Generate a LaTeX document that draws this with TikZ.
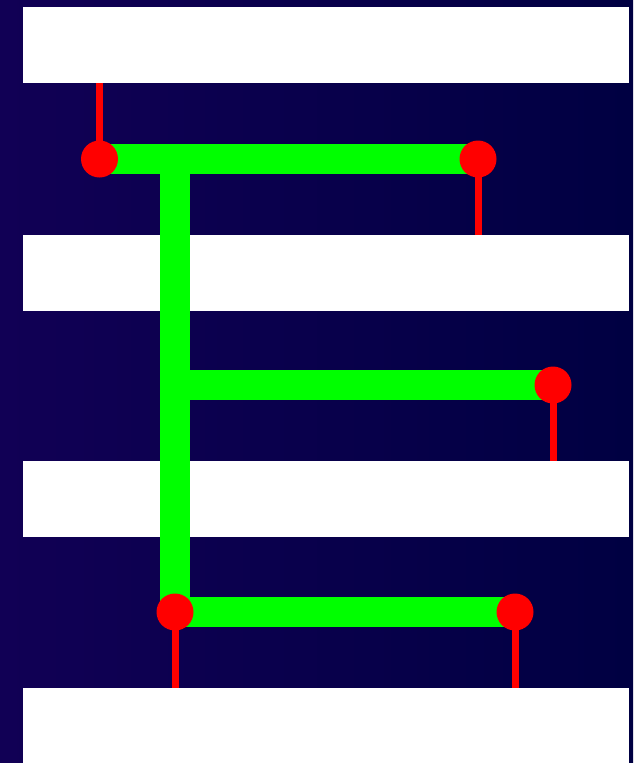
\documentclass[tikz,border=0pt]{standalone}
\usepackage{tikz}
\usetikzlibrary{positioning,calc}
\definecolor{bgleft}{HTML}{110055}
\definecolor{bgright}{HTML}{000042}
\definecolor{wire}{HTML}{00FF00}
\begin{document}
\begin{tikzpicture}[x=1pt,y=-1pt]
  \tikzstyle{rail}=[fill=white,minimum width=606pt,minimum height=76pt,inner sep=0pt,anchor=north west]
  \tikzstyle{pin}=[circle,fill=red,minimum size=37pt,inner sep=0pt]
  \tikzstyle{trunk}=[draw=wire,line width=30pt]
  \tikzstyle{lead}=[draw=red,line width=7pt]
  % backdrop
  \shade[left color=bgleft,right color=bgright] (0,0) rectangle (633,763);
  \useasboundingbox (0,0) rectangle (633,763);
  % rails
  \node[rail] (r1) at (23,7) {};
  \node[rail] (r2) at (23,235) {};
  \node[rail] (r3) at (23,461) {};
  \node[rail] (r4) at (23,688) {};
  % pin centres and junctions
  \coordinate (c1) at (99.5,159);
  \coordinate (c2) at (478,159);
  \coordinate (c3) at (553,385);
  \coordinate (c4) at (175,612);
  \coordinate (c5) at (515,612);
  \coordinate (j1) at (175,159);
  \coordinate (j2) at (175,385);
  % green wiring
  \draw[trunk] (c1) -- (c2);
  \draw[trunk] (j1) -- (c4);
  \draw[trunk] (j2) -- (c3);
  \draw[trunk] (c4) -- (c5);
  % red leads
  \draw[lead] (r1.south -| c1) -- (c1);
  \draw[lead] (c2) -- (r2.north -| c2);
  \draw[lead] (c3) -- (r3.north -| c3);
  \draw[lead] (c4) -- (r4.north -| c4);
  \draw[lead] (c5) -- (r4.north -| c5);
  % pins
  \node[pin] (p1) at (c1) {};
  \node[pin] (p2) at (c2) {};
  \node[pin] (p3) at (c3) {};
  \node[pin] (p4) at (c4) {};
  \node[pin] (p5) at (c5) {};
\end{tikzpicture}
\end{document}
